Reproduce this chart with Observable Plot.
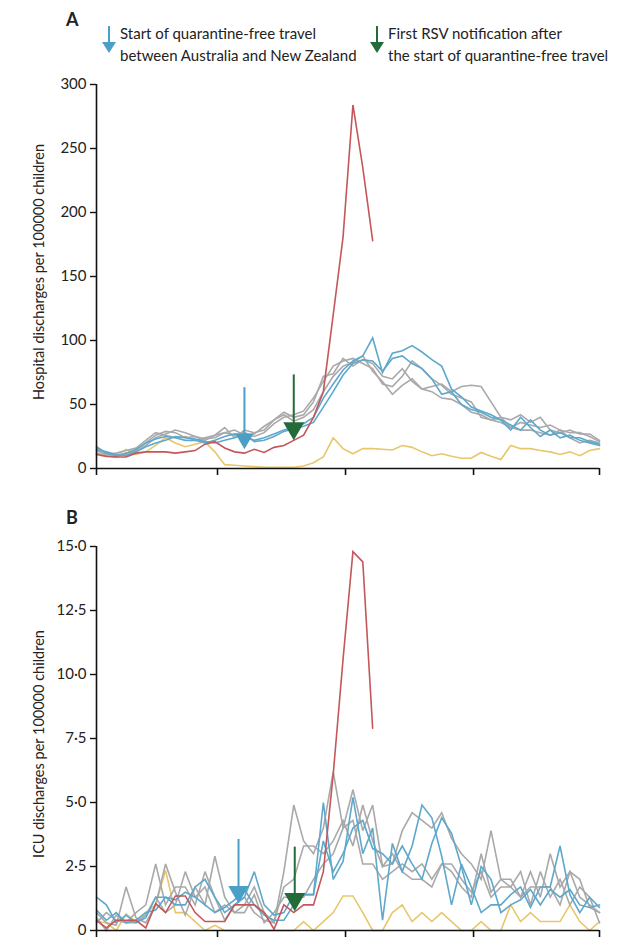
<!DOCTYPE html>
<html><head><meta charset="utf-8">
<script src="https://cdn.jsdelivr.net/npm/d3@7"></script>
<script src="https://cdn.jsdelivr.net/npm/@observablehq/plot@0.6"></script>
<style>
body{margin:0;background:#fff;font-family:Lato,"Liberation Sans",sans-serif;color:#222;}
#wrap{position:relative;width:640px;height:939px;overflow:hidden;}
.panel{position:absolute;left:0;font-size:18px;font-weight:bold;}
.leg{position:absolute;font-size:15px;line-height:22px;white-space:nowrap;}
.legar{position:absolute;}
#plotA{position:absolute;left:0;top:75px;}
#plotB{position:absolute;left:0;top:530px;}
</style></head>
<body><div id="wrap">
<div class="panel" style="left:66px;top:8px;">A</div>
<svg class="legar" style="left:100px;top:24px" width="18" height="32"><line x1="9" y1="2" x2="9" y2="20" stroke="#4a9fc6" stroke-width="2"/><path d="M2,18 L16,18 L9,29 Z" fill="#4a9fc6"/></svg>
<div class="leg" style="left:120px;top:22px;">Start of quarantine-free travel<br>between Australia and New Zealand</div>
<svg class="legar" style="left:368px;top:24px" width="18" height="32"><line x1="9" y1="2" x2="9" y2="20" stroke="#236b38" stroke-width="2"/><path d="M2,18 L16,18 L9,29 Z" fill="#236b38"/></svg>
<div class="leg" style="left:388px;top:22px;">First RSV notification after<br>the start of quarantine-free travel</div>
<div id="plotA"></div>
<div class="panel" style="left:66px;top:506px;">B</div>
<div id="plotB"></div>
</div>
<script>
// x ticks (week index positions of quarter boundaries)
const xTicks = [0, 12.27, 25.25, 38.23, 51];
const xDomain = [0, 51];

// ---- Panel A: hospital discharges per 100000 children ----
const hospGray1 = [14,11,12,14,16,22,28,26,24,25,22,24,26,32,24,30,28,30,38,44,40,42,52,72,74,86,80,85,82,72,70,78,68,62,64,66,60,64,65,64,52,40,38,42,36,40,30,28,30,27,27,22];
const hospGray2 = [12,10,9,12,14,20,26,29,28,24,25,23,24,28,30,26,27,33,38,42,37,40,46,60,72,80,83,88,76,68,58,65,70,62,60,55,54,50,44,42,38,40,32,36,34,32,34,30,28,28,25,21];
const hospGray3 = [16,12,10,11,13,18,24,27,30,28,25,22,26,28,26,28,25,28,35,40,42,45,55,68,80,84,86,82,78,66,64,72,84,78,70,65,58,55,52,40,38,36,32,30,30,28,26,30,24,20,22,20];
const hospBlue1 = [17,12,10,12,15,20,23,25,24,22,22,20,22,25,27,25,22,24,27,30,32,35,40,55,66,77,84,88,102,75,90,92,96,91,85,80,62,56,48,45,42,38,30,40,32,25,30,24,26,22,20,18];
const hospBlue2 = [15,13,11,10,13,17,20,22,25,24,23,21,20,22,24,27,21,22,25,29,31,33,36,48,60,73,82,85,84,76,86,88,82,78,70,58,60,50,46,44,40,38,34,30,38,30,26,28,24,24,21,19];
const hosp2020 = [14,11,10,15,11,13,18,24,20,17,19,21,13,3,2.5,2,1.5,1,1,1,1,2,4.5,9,24,15.5,11.5,15.5,15.5,15,14.5,18,16.5,13,10,11.5,9.5,8,8,12.5,9.5,7,18,15.5,15.5,14,13,11,13,10,14,15.5];
const hosp2021 = [11,9.5,9,9,12,13,13,13,12,13,14,19,21,16,13,12,15,12.5,16.5,18,22,26,40,60,120,181,284,235,178];

// ---- Panel B: ICU discharges per 100000 children ----
const icuGray1 = [0.7,0.3,0.2,1.7,0.5,0.3,1.0,2.6,1.5,0.6,1.7,1.0,2.9,1.3,0.7,1.0,1.7,0.7,0.3,2.3,4.9,3.5,3.0,4.0,6.2,4.0,5.5,3.9,4.9,2.5,3.0,2.3,2.0,2.0,1.7,2.6,2.3,1.7,1.3,3.0,1.5,2.0,2.0,1.3,2.3,1.3,3.0,1.7,2.3,1.3,1.0,0.7];
const icuGray2 = [0.3,0.7,0.4,0.3,0.7,1.0,2.6,1.0,1.7,1.7,1.0,2.3,1.3,0.4,1.0,1.3,0.7,0.4,0.3,1.7,2.0,3.3,3.3,3.0,3.5,4.3,3.3,4.9,3.5,2.5,2.6,3.9,4.6,4.3,4.0,4.6,3.6,3.0,2.6,2.0,3.9,2.0,1.7,2.3,1.0,2.3,1.3,2.0,1.0,1.7,1.3,0.3];
const icuGray3 = [0.5,0.0,0.6,0.3,0.3,0.6,1.3,0.7,1.0,2.3,1.3,1.7,0.7,1.0,0.7,0.7,1.4,0.3,0.7,1.3,1.3,1.3,2.0,2.6,3.0,4.0,4.3,2.6,2.6,2.0,2.3,2.6,2.3,2.6,2.0,2.6,2.6,2.0,1.5,2.3,1.3,1.7,1.7,1.3,1.7,1.7,1.7,1.0,2.3,2.0,0.9,0.7];
const icuBlue1 = [1.3,1.0,0.3,0.6,0.3,0.5,1.3,1.3,1.0,1.0,1.7,2.0,1.3,0.7,1.0,1.3,2.3,1.0,0.6,0.7,1.4,1.4,1.4,5.0,2.0,2.7,5.2,3.0,4.0,0.4,3.4,2.3,3.3,4.9,4.4,2.9,1.0,2.6,1.7,0.7,1.0,1.0,1.4,1.7,0.9,1.7,1.7,3.3,1.4,0.7,1.3,0.9];
const icuBlue2 = [0.8,0.4,0.7,0.3,0.4,0.7,0.8,1.3,1.2,1.5,1.3,1.0,0.7,0.9,1.2,1.6,1.0,0.6,0.4,0.4,1.0,1.4,1.4,3.5,2.3,3.0,4.0,4.3,3.2,3.0,2.6,3.3,2.6,2.0,3.4,4.4,3.8,2.5,1.0,2.5,2.0,0.7,1.0,1.2,1.6,1.0,1.6,1.3,1.6,1.0,0.9,1.0];
const icu2020 = [0.35,0.3,0.0,0.65,0.35,0.7,1.0,2.35,0.7,0.7,0.35,0.0,0.2,0,0,0,0,0,0,0,0,0.35,0,0.35,0.7,1.35,1.35,0.7,0,0,0.7,1.0,0.35,0.7,0.35,0.7,0.35,0,0,0.35,0,0,1.0,0.35,0.7,0.35,0.35,0.35,1.0,0.35,0,0.35];
const icu2021 = [0.4,0.1,0.4,0.4,0.4,0.1,1.05,0.7,1.35,1.35,0.7,0.35,0.35,0.35,1.0,1.0,1.0,0.7,0.05,1.0,0.7,1.0,1.0,2.3,6.1,10.6,14.8,14.4,7.9];

// event arrows (week index, shaft top, tip) per panel
const arrowsA = [
  {x: 15.0, top: 60, tip: 15, color: "#4a9fc6", r: 6.8},
  {x: 20.0, top: 70, tip: 22, color: "#236b38", r: 7.8}
];
const arrowsB = [
  {x: 14.4, top: 3.4, tip: 1.05, color: "#4a9fc6", r: 7.6},
  {x: 20.1, top: 3.1, tip: 0.75, color: "#236b38", r: 7.8}
];

const yTicksA = [0, 50, 100, 150, 200, 250, 300];
const yTicksB = [0, 2.5, 5, 7.5, 10, 12.5, 15];

const colors = {gray: "#a9a9ab", blue: "#5ea8cc", yellow: "#e8c76a", red: "#c4575a"};

function rows(values) { return values.map((v, i) => ({week: i, value: v})); }

function arrowMarks(arrows) {
  const out = [];
  for (const a of arrows) {
    // apex of a d3 triangle symbol lies 2*|y0| below its centroid
    const apex = 2 * Math.sqrt(Math.PI * a.r * a.r / (3 * Math.sqrt(3)));
    out.push(Plot.ruleX([a], {x: "x", y1: "top", y2: "tip", stroke: a.color, strokeWidth: 2, dy: -4}));
    out.push(Plot.dot([a], {x: "x", y: "tip", symbol: "triangle", rotate: 180, r: a.r, fill: a.color, stroke: "none", dy: -apex}));
  }
  return out;
}

function panel(series, arrows, yDomain, yTicks, fmt, opts) {
  const lineMarks = series.map(s => Plot.line(rows(s.values), {x: "week", y: "value", stroke: colors[s.kind], strokeWidth: 1.6, strokeLinejoin: "miter", strokeMiterlimit: 3}));
  return Plot.plot({
    width: 640, height: opts.height,
    marginLeft: 96, marginRight: 41, marginTop: opts.mt, marginBottom: opts.mb,
    style: {fontFamily: 'Lato, "Liberation Sans", sans-serif', fontSize: "15px", color: "#222", background: "white"},
    x: {domain: xDomain},
    y: {domain: yDomain},
    marks: [
      ...lineMarks,
      ...arrowMarks(arrows),
      Plot.ruleY([yDomain[0]], {stroke: "#111", strokeWidth: 1.6}),
      Plot.ruleX([xDomain[0]], {stroke: "#111", strokeWidth: 1.6}),
      Plot.axisX({ticks: xTicks, tickFormat: () => "", tickSize: 7, stroke: "#111", strokeWidth: 1.6, label: null}),
      Plot.axisY({ticks: yTicks, tickFormat: fmt, tickSize: 6, tickPadding: 4, stroke: "#111", strokeWidth: 1.4, label: null, fontSize: 15})
    ]
  });
}

const seriesA = [
  {kind: "yellow", values: hosp2020},
  {kind: "gray", values: hospGray1},
  {kind: "gray", values: hospGray2},
  {kind: "gray", values: hospGray3},
  {kind: "blue", values: hospBlue1},
  {kind: "blue", values: hospBlue2},
  {kind: "red", values: hosp2021}
];
const seriesB = [
  {kind: "yellow", values: icu2020},
  {kind: "gray", values: icuGray1},
  {kind: "gray", values: icuGray2},
  {kind: "gray", values: icuGray3},
  {kind: "blue", values: icuBlue1},
  {kind: "blue", values: icuBlue2},
  {kind: "red", values: icu2021}
];

const fmtA = d => String(d);
const fmtB = d => d === 0 ? "0" : d.toFixed(1).replace(".", "\u00B7");

const pA = panel(seriesA, arrowsA, [0, 300], yTicksA, fmtA, {height: 414, mt: 9, mb: 21});
const pB = panel(seriesB, arrowsB, [0, 15], yTicksB, fmtB, {height: 409, mt: 16, mb: 9});

function addYLabel(svg, text, cy) {
  const t = document.createElementNS("http://www.w3.org/2000/svg", "text");
  t.setAttribute("transform", `translate(40,${cy}) rotate(-90)`);
  t.setAttribute("text-anchor", "middle");
  t.setAttribute("dominant-baseline", "middle");
  t.setAttribute("font-size", "14.5");
  t.setAttribute("fill", "#222");
  t.textContent = text;
  svg.appendChild(t);
}
addYLabel(pA, "Hospital discharges per 100000 children", 197);
addYLabel(pB, "ICU discharges per 100000 children", 214);

document.getElementById("plotA").appendChild(pA);
document.getElementById("plotB").appendChild(pB);
</script>
</body></html>
